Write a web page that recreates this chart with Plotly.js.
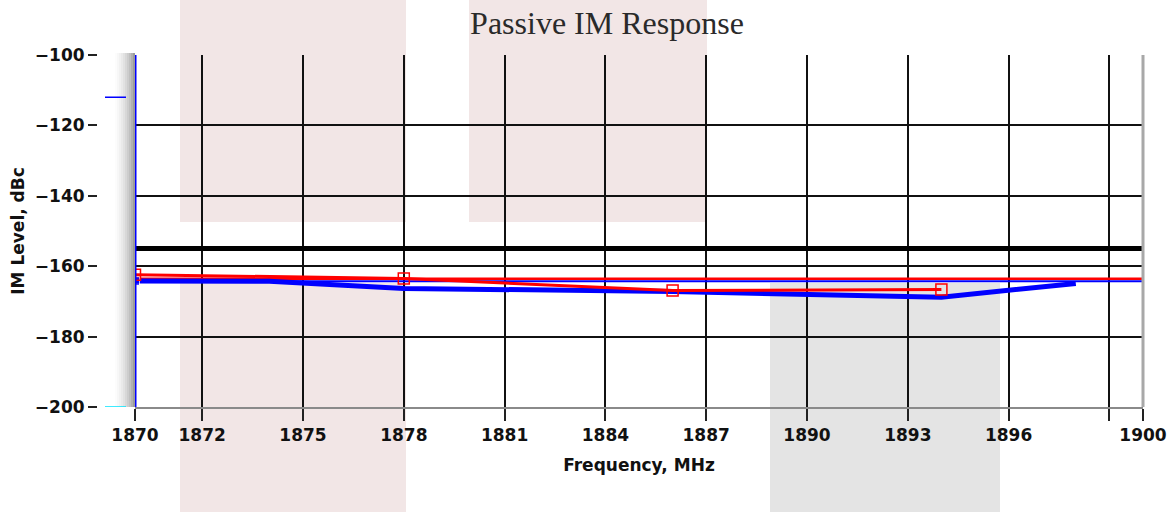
<!DOCTYPE html>
<html>
<head>
<meta charset="utf-8">
<script src="https://cdn.plot.ly/plotly-3.0.1.min.js"></script>
<style>html,body{margin:0;padding:0;background:#fff;}#chart{width:1172px;height:512px;}</style>
</head>
<body>
<div id="chart"></div>
<script>
// ---- data ----
const xTickVals = [1870, 1872, 1875, 1878, 1881, 1884, 1887, 1890, 1893, 1896, 1899, 1900];
const xTickText = ['1870', '1872', '1875', '1878', '1881', '1884', '1887', '1890', '1893', '1896', '', '1900'];
const yTickVals = [-100, -120, -140, -160, -180, -200];

const limitX = [1870, 1900];
const limitY = [-155, -155];

const specX = [1870, 1900];
const specRedY = [-163.6, -163.6];
const specBlueY = [-164.3, -164.3];

const blueFreq = [1870, 1874, 1878, 1886, 1894, 1898];
const blueIM = [-164.2, -164.3, -166.3, -167.2, -168.8, -164.9];

const redFreq = [1870, 1878, 1886, 1894];
const redIM = [-162.4, -163.5, -166.9, -166.6];

const edgeX = [1870, 1870];
const edgeY = [-100, -200];

// ---- layout helpers (pixel -> paper) ----
const L = 97, R = 29, T = 55, B = 105, W = 1172, H = 512;
const PW = W - L - R, PH = H - T - B;
const px = v => (v - L) / PW;
const py = v => (H - B - v) / PH;

const shapes = [];
function rect(x0, x1, y0, y1, color) {
  shapes.push({type: 'rect', xref: 'paper', yref: 'paper', layer: 'below',
    x0: px(x0), x1: px(x1), y0: py(y1), y1: py(y0),
    fillcolor: color, line: {width: 0}});
}
// background tint blocks
rect(180, 406, 0, 222, '#f2e6e6');
rect(180, 406, 283, 512, '#f2e6e6');
rect(469, 707, 0, 222, '#f2e6e6');
rect(770, 1000, 283, 512, '#e4e4e4');
// shadow strip left of plot
const shadeCols = ['#fcfcfc', '#f7f7f7', '#f1f1f1', '#eaeaea', '#e2e2e2', '#d8d8d8', '#cdcdcd', '#c0c0c0', '#b0b0b0', '#9c9c9c'];
shadeCols.forEach((c, i) => rect(115 + i * 2, 117 + i * 2, 53, 407, c));
// right border
shapes.push({type: 'line', xref: 'paper', yref: 'paper', layer: 'above',
  x0: 1, x1: 1, y0: 0, y1: 1, line: {color: '#a8a8a8', width: 3}});
// small marker ticks at left
shapes.push({type: 'line', xref: 'paper', yref: 'y', layer: 'above',
  x0: px(105), x1: px(126), y0: -112, y1: -112, line: {color: '#0000ff', width: 1.5}});
shapes.push({type: 'line', xref: 'paper', yref: 'y', layer: 'above',
  x0: px(105), x1: px(126), y0: -200, y1: -200, line: {color: '#00e5ff', width: 1.5}});

const tickFont = {family: 'DejaVu Sans', size: 17, weight: 'bold', color: '#111'};
const titleFont = {family: 'DejaVu Sans', size: 17, weight: 'bold', color: '#111'};

const traces = [
  {x: limitX, y: limitY, mode: 'lines', line: {color: '#000', width: 5}, hoverinfo: 'skip'},
  {x: specX, y: specBlueY, mode: 'lines', line: {color: '#0000ff', width: 2}, hoverinfo: 'skip'},
  {x: specX, y: specRedY, mode: 'lines', line: {color: '#ff0000', width: 2.5}, hoverinfo: 'skip'},
  {x: blueFreq, y: blueIM, mode: 'lines+markers', line: {color: '#0000ff', width: 5},
   marker: {symbol: 'square', size: [9, 0, 0, 0, 0, 0], color: '#0000ff'}, hoverinfo: 'skip'},
  {x: redFreq, y: redIM, mode: 'lines+markers', line: {color: '#ff0000', width: 3},
   marker: {symbol: 'square-open', size: 11, color: '#ff0000', line: {width: 1.5, color: '#ff0000'}}, hoverinfo: 'skip'},
  {x: edgeX, y: edgeY, mode: 'lines', line: {color: '#0000ff', width: 3}, hoverinfo: 'skip'}
];

const layout = {
  width: W, height: H,
  margin: {l: L, r: R, t: T, b: B},
  paper_bgcolor: '#fff',
  plot_bgcolor: 'rgba(0,0,0,0)',
  showlegend: false,
  title: {text: 'Passive IM Response', xref: 'container', yref: 'container',
    x: 607 / W, y: 1 - 23 / H, xanchor: 'center', yanchor: 'middle',
    font: {family: 'Liberation Serif', size: 32, color: '#2a2a2a'}},
  xaxis: {
    range: [1870, 1900], domain: [px(135), 1],
    tickmode: 'array', tickvals: xTickVals, ticktext: xTickText,
    ticks: 'outside', ticklen: 12, tickwidth: 2, tickcolor: '#222',
    showgrid: true, gridcolor: '#111', gridwidth: 2,
    showline: true, linecolor: '#8a8a8a', linewidth: 2,
    zeroline: false, tickfont: tickFont,
    title: {text: 'Frequency, MHz', font: titleFont, standoff: 15}
  },
  yaxis: {
    range: [-200, -100], anchor: 'free', position: 0,
    tickmode: 'array', tickvals: yTickVals,
    ticks: 'outside', ticklen: 9, tickwidth: 2, tickcolor: '#222',
    showgrid: true, gridcolor: '#111', gridwidth: 2,
    showline: false, zeroline: false, tickfont: tickFont,
    title: {text: 'IM Level, dBc', font: titleFont, standoff: 4}
  },
  shapes: shapes
};

Plotly.newPlot('chart', traces, layout, {staticPlot: true, displayModeBar: false});
</script>
</body>
</html>
